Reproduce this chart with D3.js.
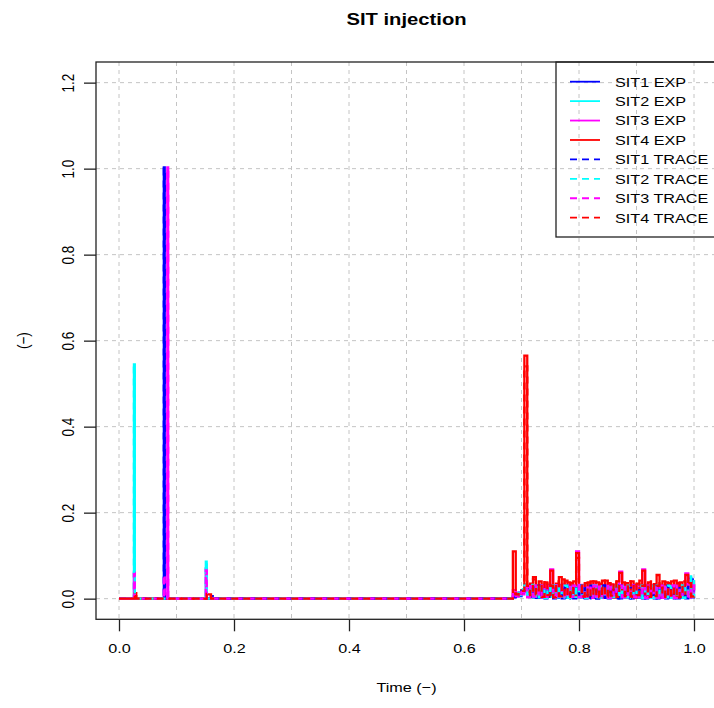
<!DOCTYPE html>
<html><head><meta charset="utf-8">
<script src="https://cdn.jsdelivr.net/npm/d3@7"></script>
<style>body{margin:0;background:#fff}svg{display:block;font-family:"Liberation Sans",Arial,sans-serif}</style>
</head><body><svg id="c" width="714" height="708"></svg>
<script>
// ---------------- data ----------------
const chartTitle = "SIT injection";
const xLabel = "Time (\u2212)";
const yLabel = "(\u2212)";
const xTicks = [0.0, 0.2, 0.4, 0.6, 0.8, 1.0];
const yTicks = [0.0, 0.2, 0.4, 0.6, 0.8, 1.0, 1.2];
const xGrid = [0.0, 0.1, 0.2, 0.3, 0.4, 0.5, 0.6, 0.7, 0.8, 0.9, 1.0];
const seriesNames = ["SIT1 EXP","SIT2 EXP","SIT3 EXP","SIT4 EXP","SIT1 TRACE","SIT2 TRACE","SIT3 TRACE","SIT4 TRACE"];
const seriesColors = ["#0000FF","#00FFFF","#FF00FF","#FF0000","#0000FF","#00FFFF","#FF00FF","#FF0000"];
const seriesDashed = [false,false,false,false,true,true,true,true];

const earlyTime = [0.000,0.022,0.0245,0.026,0.0275,0.030,0.074,0.0765,0.078,0.0795,
                   0.0825,0.084,0.0855,0.088,0.147,0.1495,0.151,0.1525,0.156,0.160,
                   0.163,0.400,0.676];
const sit1ExpEarly   = [0,0,0,0,0,0,0,0,1.003,0, 0,0,0,0,0,0,0,0,0,0.006, 0,0,0];
const sit2ExpEarly   = [0,0,0,0.545,0,0,0,0,0,0, 0,0,0,0,0,0,0.086,0,0,0, 0,0,0];
const sit3ExpEarly   = [0,0,0,0.060,0,0,0,0,0,0, 0,1.003,0,0,0,0,0.069,0,0,0, 0,0,0];
const sit4ExpEarly   = [0,0,0,0,0.013,0,0,0,0,0, 0,0,0,0,0,0,0,0.010,0.010,0, 0,0,0];
const sit1TraceEarly = [0,0,0,0,0,0,0,0,1.000,0, 0,0,0,0,0,0,0,0,0,0.005, 0,0,0];
const sit2TraceEarly = [0,0,0,0.540,0,0,0,0,0,0, 0,0,0,0,0,0,0.083,0,0,0, 0,0,0];
const sit3TraceEarly = [0,0,0,0.057,0,0,0,0,0.055,0, 0,0.998,0,0,0,0,0.066,0,0,0, 0,0,0];
const sit4TraceEarly = [0,0,0,0,0.012,0,0,0,0,0, 0,0,0,0,0,0,0,0.011,0.009,0, 0,0,0];

const lateTime = [0.680,0.685,0.690,0.695,0.700,0.705,0.710,0.715,0.720,0.725,
                  0.730,0.735,0.740,0.745,0.750,0.755,0.760,0.765,0.770,0.775,
                  0.780,0.785,0.790,0.795,0.800,0.805,0.810,0.815,0.820,0.825,
                  0.830,0.835,0.840,0.845,0.850,0.855,0.860,0.865,0.870,0.875,
                  0.880,0.885,0.890,0.895,0.900,0.905,0.910,0.915,0.920,0.925,
                  0.930,0.935,0.940,0.945,0.950,0.955,0.960,0.965,0.970,0.975,
                  0.980,0.985,0.990,0.995,1.000];
const sit1ExpLate = [0.000,0.004,0.010,0.006,0.015,0.020,0.010,0.025,0.003,0.030,
                     0.002,0.028,0.001,0.032,0.004,0.026,0.002,0.030,0.001,0.028,
                     0.003,0.031,0.001,0.029,0.002,0.027,0.001,0.030,0.002,0.028,
                     0.000,0.031,0.002,0.029,0.001,0.027,0.002,0.030,0.001,0.028,
                     0.003,0.030,0.001,0.029,0.002,0.031,0.001,0.028,0.002,0.030,
                     0.001,0.029,0.002,0.027,0.001,0.030,0.002,0.028,0.001,0.031,
                     0.002,0.029,0.048,0.003,0.010];
const sit2ExpLate = [0.000,0.006,0.012,0.008,0.020,0.034,0.006,0.026,0.003,0.030,
                     0.004,0.028,0.002,0.031,0.005,0.029,0.003,0.030,0.004,0.027,
                     0.002,0.031,0.004,0.030,0.003,0.028,0.002,0.032,0.004,0.029,
                     0.003,0.030,0.002,0.031,0.004,0.028,0.002,0.030,0.003,0.029,
                     0.004,0.031,0.002,0.030,0.003,0.028,0.004,0.031,0.002,0.030,
                     0.003,0.029,0.004,0.032,0.002,0.030,0.003,0.031,0.004,0.028,
                     0.002,0.033,0.052,0.004,0.018];
const sit3ExpLate = [0.000,0.020,0.005,0.015,0.010,0.025,0.004,0.030,0.006,0.028,
                     0.003,0.032,0.005,0.030,0.068,0.004,0.030,0.006,0.033,0.002,
                     0.031,0.005,0.029,0.110,0.003,0.032,0.005,0.030,0.002,0.033,
                     0.004,0.031,0.002,0.030,0.005,0.032,0.003,0.030,0.063,0.004,
                     0.031,0.003,0.032,0.002,0.030,0.004,0.068,0.003,0.031,0.004,
                     0.030,0.003,0.032,0.002,0.031,0.004,0.030,0.002,0.033,0.003,
                     0.030,0.059,0.003,0.030,0.012];
const sit4ExpLate = [0.000,0.110,0.008,0.012,0.020,0.565,0.015,0.035,0.050,0.005,
                     0.040,0.008,0.038,0.004,0.065,0.010,0.035,0.050,0.006,0.042,
                     0.003,0.036,0.008,0.106,0.004,0.030,0.006,0.038,0.002,0.040,
                     0.007,0.035,0.004,0.042,0.006,0.033,0.003,0.040,0.060,0.005,
                     0.036,0.008,0.040,0.003,0.035,0.006,0.065,0.004,0.038,0.007,
                     0.034,0.055,0.005,0.040,0.004,0.036,0.008,0.042,0.003,0.038,
                     0.006,0.055,0.010,0.040,0.020];
const sit1TraceLate = [0.000,0.003,0.008,0.012,0.018,0.015,0.022,0.004,0.027,0.002,
                       0.030,0.003,0.026,0.002,0.029,0.001,0.031,0.003,0.027,0.002,
                       0.030,0.001,0.028,0.003,0.031,0.002,0.029,0.001,0.030,0.002,
                       0.027,0.001,0.031,0.002,0.029,0.003,0.028,0.001,0.030,0.002,
                       0.029,0.001,0.031,0.003,0.027,0.002,0.030,0.001,0.028,0.002,
                       0.031,0.001,0.029,0.002,0.030,0.003,0.027,0.001,0.030,0.002,
                       0.028,0.001,0.031,0.045,0.008];
const sit2TraceLate = [0.000,0.005,0.010,0.014,0.022,0.030,0.004,0.032,0.005,0.027,
                       0.003,0.030,0.002,0.028,0.004,0.031,0.002,0.029,0.003,0.030,
                       0.002,0.028,0.004,0.031,0.002,0.030,0.003,0.027,0.002,0.031,
                       0.004,0.029,0.002,0.030,0.003,0.028,0.004,0.031,0.002,0.029,
                       0.003,0.030,0.002,0.028,0.004,0.031,0.002,0.030,0.003,0.029,
                       0.002,0.031,0.003,0.028,0.004,0.030,0.002,0.029,0.003,0.031,
                       0.002,0.030,0.004,0.050,0.015];
const sit3TraceLate = [0.000,0.018,0.006,0.012,0.016,0.028,0.003,0.029,0.005,0.031,
                       0.002,0.030,0.004,0.029,0.032,0.003,0.031,0.005,0.028,0.002,
                       0.032,0.004,0.030,0.035,0.003,0.029,0.004,0.031,0.002,0.030,
                       0.005,0.029,0.003,0.032,0.002,0.030,0.004,0.031,0.030,0.003,
                       0.030,0.002,0.031,0.004,0.029,0.003,0.033,0.002,0.030,0.005,
                       0.031,0.002,0.030,0.004,0.029,0.003,0.031,0.002,0.030,0.004,
                       0.029,0.034,0.002,0.031,0.010];
const sit4TraceLate = [0.000,0.012,0.010,0.015,0.018,0.540,0.030,0.008,0.045,0.010,
                       0.035,0.004,0.042,0.008,0.030,0.003,0.040,0.006,0.045,0.005,
                       0.038,0.004,0.040,0.095,0.030,0.005,0.036,0.004,0.040,0.006,
                       0.038,0.003,0.042,0.005,0.036,0.007,0.040,0.004,0.035,0.038,
                       0.006,0.040,0.005,0.036,0.008,0.042,0.030,0.036,0.004,0.040,
                       0.006,0.030,0.036,0.005,0.038,0.004,0.040,0.006,0.036,0.004,
                       0.040,0.030,0.036,0.005,0.015];

const earlyValues = [sit1ExpEarly,sit2ExpEarly,sit3ExpEarly,sit4ExpEarly,sit1TraceEarly,sit2TraceEarly,sit3TraceEarly,sit4TraceEarly];
const lateValues  = [sit1ExpLate,sit2ExpLate,sit3ExpLate,sit4ExpLate,sit1TraceLate,sit2TraceLate,sit3TraceLate,sit4TraceLate];

// ---------------- layout ----------------
const W = 714, H = 708;
const plotL = 96, plotR = 717, plotT = 62, plotB = 619.3;
const SX = 1.2; // horizontal text stretch
const fs = 13.5;

const svg = d3.select("#c");
svg.append("rect").attr("width", W).attr("height", H).attr("fill", "#fff");

const x = d3.scaleLinear().domain([-0.04, 1.04]).range([plotL, plotR]);
const y = d3.scaleLinear().domain([-0.048, 1.248]).range([plotB, plotT]);

// grid
const grid = svg.append("g").attr("stroke", "#c4c4c4").attr("stroke-width", 1).attr("stroke-dasharray", "4,4").attr("fill","none");
grid.selectAll("line.v").data(xGrid).join("line").attr("class","v")
  .attr("x1", d => x(d)).attr("x2", d => x(d)).attr("y1", plotT).attr("y2", plotB);
grid.selectAll("line.h").data(yTicks).join("line").attr("class","h")
  .attr("y1", d => y(d)).attr("y2", d => y(d)).attr("x1", plotL).attr("x2", plotR);

// series
const line = d3.line().x(d => x(d[0])).y(d => y(d[1])).curve(d3.curveStepAfter);
const dataGroup = svg.append("g");
seriesNames.forEach((name, k) => {
  const pts = earlyTime.map((t, i) => [t, earlyValues[k][i]])
    .concat(lateTime.map((t, i) => [t, lateValues[k][i]]));
  dataGroup.append("path").datum(pts)
    .attr("d", line)
    .attr("fill", "none")
    .attr("stroke", seriesColors[k])
    .attr("stroke-width", 2.3)
    .attr("stroke-linejoin", "miter")
    .attr("stroke-dasharray", seriesDashed[k] ? "7,5" : null);
});

// box
svg.append("rect").attr("x", plotL).attr("y", plotT).attr("width", plotR - plotL).attr("height", plotB - plotT)
  .attr("fill", "none").attr("stroke", "#222").attr("stroke-width", 1.3);

// x axis
const xAxis = d3.axisBottom(x).tickValues(xTicks).tickFormat(d3.format(".1f")).tickSize(12).tickPadding(0);
const gx = svg.append("g").attr("transform", `translate(0,${plotB})`).call(xAxis);
gx.select(".domain").remove();
gx.selectAll(".tick line").attr("stroke", "#222").attr("stroke-width", 1.3);
gx.selectAll(".tick text").attr("y", 34.2).attr("dy", null).attr("fill", "#000")
  .attr("font-size", fs).attr("font-family", "Liberation Sans, Arial, sans-serif")
  .attr("transform", `scale(${SX},1)`);

// y axis
const yAxis = d3.axisLeft(y).tickValues(yTicks).tickFormat(d3.format(".1f")).tickSize(12);
const gy = svg.append("g").attr("transform", `translate(${plotL},0)`).call(yAxis);
gy.select(".domain").remove();
gy.selectAll(".tick line").attr("stroke", "#222").attr("stroke-width", 1.3);
gy.selectAll(".tick text").attr("x", null).attr("dy", null)
  .attr("text-anchor", "middle").attr("fill", "#000")
  .attr("font-size", fs).attr("font-family", "Liberation Sans, Arial, sans-serif")
  .attr("transform", `translate(-22.5,0) rotate(-90) scale(1,${SX})`);

// titles
svg.append("text").text(chartTitle)
  .attr("text-anchor", "middle").attr("font-weight", "bold").attr("font-size", 16.3)
  .attr("transform", `translate(${(plotL + plotR) / 2},25) scale(1.24,1)`);
svg.append("text").text(xLabel)
  .attr("text-anchor", "middle").attr("font-size", fs)
  .attr("transform", `translate(${(plotL + plotR) / 2},692) scale(${SX},1)`);
svg.append("text").text(yLabel)
  .attr("text-anchor", "middle").attr("font-size", fs)
  .attr("transform", `translate(28.5,${(plotT + plotB) / 2}) rotate(-90) scale(1,${SX})`);

// legend
const legL = 556, legT = 62, legB = 237;
svg.append("rect").attr("x", legL).attr("y", legT).attr("width", plotR - legL).attr("height", legB - legT)
  .attr("fill", "none").attr("stroke", "#222").attr("stroke-width", 1.3);
const rowY = d3.scaleLinear().domain([0, 7]).range([81.7, 217.7]);
const leg = svg.append("g");
seriesNames.forEach((name, k) => {
  const ry = rowY(k);
  leg.append("line").attr("x1", 570).attr("x2", 600).attr("y1", ry).attr("y2", ry)
    .attr("stroke", seriesColors[k]).attr("stroke-width", 1.8)
    .attr("stroke-dasharray", seriesDashed[k] ? "7,5" : null);
  leg.append("text").text(name).attr("font-size", fs)
    .attr("transform", `translate(615,${ry + 4.8}) scale(${SX},1)`);
});
</script>
</body></html>
